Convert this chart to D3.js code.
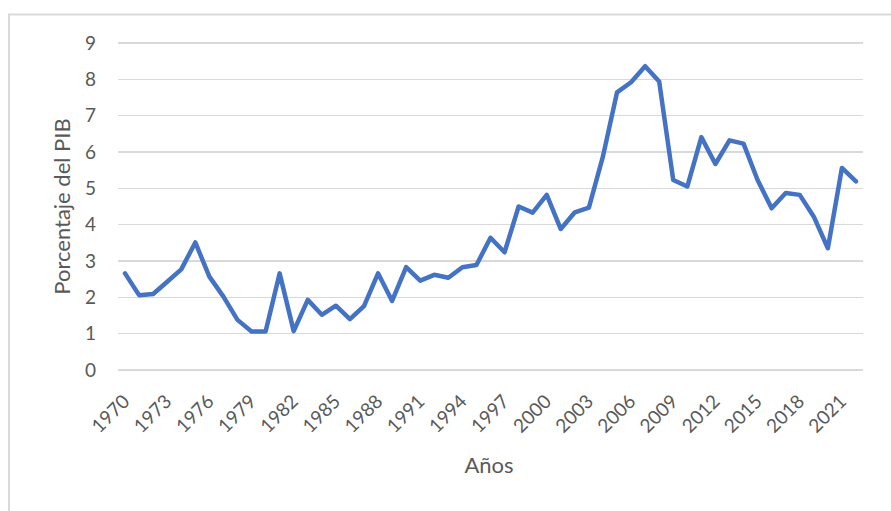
<!DOCTYPE html>
<html>
<meta charset="utf-8">
<style>
body { margin: 0; background: #fff; font-family: Lato, "Open Sans", sans-serif; }
.grid line { stroke: #d9d9d9; stroke-width: 1.5; shape-rendering: crispEdges; }
.tick text { fill: #595959; }
</style>
<body>
<script src="https://d3js.org/d3.v7.min.js"></script>
<script>
// years 1970 - 2022
var years = d3.range(1970, 2023);
var values = [2.66, 2.06, 2.09, 2.43, 2.77, 3.51, 2.57, 2.02, 1.38, 1.06,
              1.06, 2.66, 1.07, 1.93, 1.52, 1.77, 1.40, 1.76, 2.66, 1.90,
              2.83, 2.46, 2.62, 2.54, 2.83, 2.89, 3.64, 3.24, 4.50, 4.33,
              4.82, 3.88, 4.34, 4.47, 5.88, 7.64, 7.92, 8.36, 7.94, 5.23,
              5.05, 6.41, 5.67, 6.32, 6.23, 5.23, 4.45, 4.87, 4.82, 4.22,
              3.35, 5.56, 5.19];
var yTicks = [0, 1, 2, 3, 4, 5, 6, 7, 8, 9];
var xLabelYears = d3.range(1970, 2023, 3);

var W = 891, H = 511;
var plot = {left: 118, right: 863, top: 43, bottom: 370};

var svg = d3.select("body").append("svg")
    .attr("width", W)
    .attr("height", H);

// chart border
svg.append("rect")
    .attr("x", 9).attr("y", 14.5)
    .attr("width", W + 10).attr("height", H + 10)
    .attr("fill", "#fff")
    .attr("stroke", "#d9d9d9")
    .attr("stroke-width", 2);

var x = d3.scaleBand().domain(years).range([plot.left, plot.right]);
var y = d3.scaleLinear().domain([0, 9]).range([plot.bottom, plot.top]);

// gridlines
svg.append("g")
    .attr("class", "grid")
    .selectAll("line")
    .data(yTicks)
    .enter().append("line")
    .attr("x1", plot.left).attr("x2", plot.right)
    .attr("y1", function(d) { return y(d); })
    .attr("y2", function(d) { return y(d); });

// y axis labels
var yAxis = svg.append("g")
    .attr("transform", "translate(" + plot.left + ",0)")
    .call(d3.axisLeft(y).tickValues(yTicks).tickSize(0).tickPadding(22));
yAxis.select(".domain").remove();
yAxis.selectAll("text")
    .style("font-size", "19px")
    .style("font-family", "Lato, sans-serif");

// x axis labels
var xAxis = svg.append("g")
    .attr("transform", "translate(0," + plot.bottom + ")")
    .call(d3.axisBottom(x).tickValues(xLabelYears).tickSize(0));
xAxis.select(".domain").remove();
xAxis.selectAll("text")
    .attr("transform", "translate(1,28) rotate(-45)")
    .attr("x", 0).attr("y", 0).attr("dy", "0.35em")
    .attr("text-anchor", "end")
    .style("font-size", "19px")
    .style("font-family", "Lato, sans-serif");

// line
var line = d3.line()
    .x(function(d, i) { return x(years[i]) + x.bandwidth() / 2; })
    .y(function(d) { return y(d); });

svg.append("path")
    .datum(values)
    .attr("fill", "none")
    .attr("stroke", "#4472c4")
    .attr("stroke-width", 4.5)
    .attr("stroke-linejoin", "round")
    .attr("stroke-linecap", "round")
    .attr("d", line);

// axis titles
svg.append("text")
    .attr("transform", "translate(70," + ((plot.top + plot.bottom) / 2) + ") rotate(-90)")
    .attr("text-anchor", "middle")
    .style("font-size", "22px")
    .style("fill", "#595959")
    .text("Porcentaje del PIB");

svg.append("text")
    .attr("x", 489)
    .attr("y", 473)
    .attr("text-anchor", "middle")
    .style("font-size", "22px")
    .style("fill", "#595959")
    .text("Años");
</script>
</body>
</html>
